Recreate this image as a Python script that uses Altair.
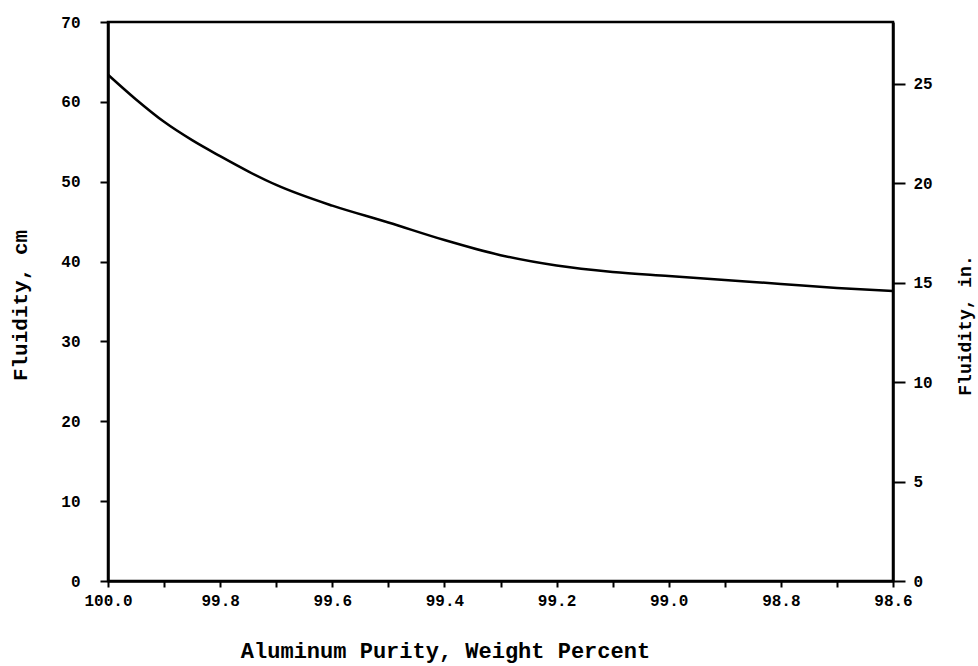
import altair as alt
import pandas as pd

purity = [100.0, 99.95, 99.9, 99.85, 99.8, 99.75, 99.7, 99.6, 99.5, 99.4, 99.3, 99.2, 99.1, 99.0, 98.9, 98.8, 98.7, 98.6]
fluidity_cm = [63.4, 60.3, 57.5, 55.2, 53.2, 51.3, 49.6, 47.0, 44.9, 42.7, 40.8, 39.5, 38.7, 38.2, 37.7, 37.2, 36.7, 36.3]
x_ticks = [100.0, 99.9, 99.8, 99.7, 99.6, 99.5, 99.4, 99.3, 99.2, 99.1, 99.0, 98.9, 98.8, 98.7, 98.6]
cm_ticks = [0, 10, 20, 30, 40, 50, 60, 70]
in_ticks = [0, 5, 10, 15, 20, 25]

df = pd.DataFrame({"purity": purity, "cm": fluidity_cm})

LABEL_FONT = "Liberation Mono"
TITLE_FONT = "Liberation Mono"

xenc = alt.X(
    "purity:Q",
    scale=alt.Scale(domain=[98.6, 100.0], reverse=True, nice=False, zero=False),
    axis=alt.Axis(
        values=x_ticks,
        format=".1f",
        labelExpr="(round(datum.value*10) % 2 == 0) ? format(datum.value, '.1f') : ''",
        labelFlush=False,
        labelOverlap=False,
        title="Aluminum Purity, Weight Percent",
        tickSize=6,
        labelPadding=5,
        titleX=337,
        titleY=76,
        titleBaseline="alphabetic",
        titleFontSize=22,
        grid=False,
    ),
)

base = alt.Chart(df)

left = base.mark_line(color="black", strokeWidth=2.5, interpolate="monotone").encode(
    x=xenc,
    y=alt.Y(
        "cm:Q",
        scale=alt.Scale(domain=[0, 70], nice=False),
        axis=alt.Axis(
            values=cm_ticks,
            title="Fluidity, cm",
            orient="left",
            tickSize=8,
            labelPadding=20,
            labelFlush=False,
            titleAngle=270,
            titleX=-88,
            titleY=283,
            titleBaseline="middle",
            grid=False,
        ),
    ),
)

right = base.transform_calculate(inch="datum.cm / 2.54").mark_line(
    color="black", strokeOpacity=0
).encode(
    x=xenc,
    y=alt.Y(
        "inch:Q",
        scale=alt.Scale(domain=[0, 28.1], nice=False),
        axis=alt.Axis(
            values=in_ticks,
            title="Fluidity, in.",
            orient="right",
            tickSize=12,
            labelPadding=8,
            labelFlush=False,
            titleAngle=270,
            titleX=72,
            titleY=303,
            titleBaseline="middle",
            titleFontSize=18,
            grid=False,
        ),
    ),
)

chart = (
    alt.layer(left, right)
    .resolve_scale(y="independent")
    .properties(
        width=785,
        height=559,
        autosize=alt.AutoSizeParams(type="none"),
        padding={"left": 108, "top": 22, "right": 85, "bottom": 85},
        background="white",
    )
    .configure_view(stroke="black", strokeWidth=2.5)
    .configure_axis(
        domainColor="black",
        domainWidth=2.5,
        tickColor="black",
        tickWidth=2,
        labelFont=LABEL_FONT,
        labelFontWeight="bold",
        labelFontSize=16,
        labelColor="black",
        titleFont=TITLE_FONT,
        titleFontSize=21,
        titleFontWeight="bold",
        titleColor="black",
    )
)

chart.save("out.html", embed_options={"renderer": "svg", "actions": False})
